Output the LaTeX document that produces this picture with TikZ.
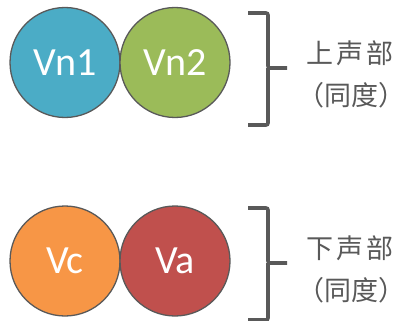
\documentclass[tikz,border=0pt]{standalone}
\usepackage{fontspec}
\setmainfont{Carlito}
\newfontfamily\cjk{Noto Sans CJK SC}
\definecolor{cblue}{HTML}{4BACC6}
\definecolor{cgreen}{HTML}{9BBB59}
\definecolor{corange}{HTML}{F79646}
\definecolor{cred}{HTML}{C0504D}
\definecolor{cline}{HTML}{595959}
\begin{document}
\begin{tikzpicture}[x=1pt,y=-1pt,
  voice/.style={circle,draw=cline,line width=1.3pt,minimum size=110pt,inner sep=0pt,
    text=white,font=\fontsize{40}{44}\selectfont},
  bracepath/.style={draw=cline,line width=3.6pt,rounded corners=2pt},
  label/.style={text=cline,font=\cjk\fontsize{27}{30}\selectfont,inner sep=0pt}]
\useasboundingbox (0,0) rectangle (404,321);
\node[voice,fill=cblue] (vn1) at (65,62.5) {Vn1};
\node[voice,fill=cgreen] (vn2) at (175,62.5) {Vn2};
\node[voice,fill=corange] (vc) at (65,261) {Vc};
\node[voice,fill=cred] (va) at (175,261) {Va};
% braces
\draw[bracepath] (248,13) -- (268,13) -- (268,68) -- (287,68);
\draw[bracepath] (268,68) -- (268,125) -- (248,125);
\draw[bracepath] (248,208) -- (268,208) -- (268,263) -- (287,263);
\draw[bracepath] (268,263) -- (268,320) -- (248,320);
% labels
\node[label] (t1) at (350,53) {上\hspace{3pt}声\hspace{3pt}部};
\node[label] (t1b) at (351,95) {（同度）};
\node[label] (t2) at (350,248) {下\hspace{3pt}声\hspace{3pt}部};
\node[label] (t2b) at (351,290) {（同度）};
\end{tikzpicture}
\end{document}
